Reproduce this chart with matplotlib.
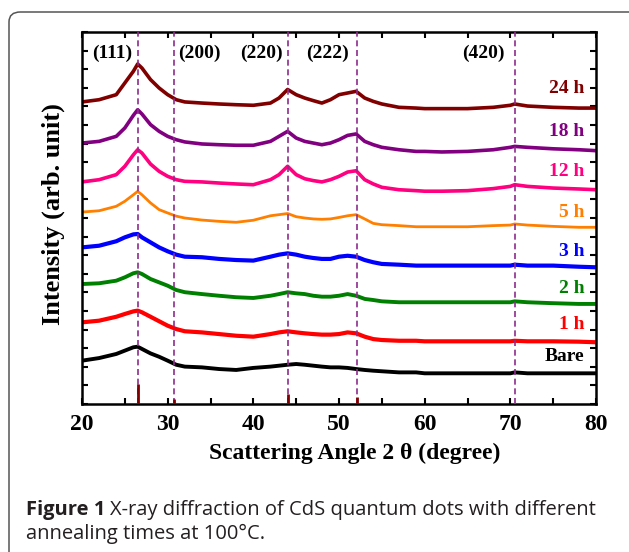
"""
Fig. 1: XRD patterns of CdS quantum dots for several annealing times (100 C).
Traces are stacked with a vertical offset; values read off the original figure.
"""

import numpy as np
import matplotlib
matplotlib.use("Agg")
import matplotlib.pyplot as plt
from matplotlib.patches import FancyBboxPatch

# scattering angle 2theta (degree)
two_theta = [20, 22, 24, 25, 26, 26.5, 27, 28, 29, 30, 31, 32, 34, 36, 38, 40,
             42, 43, 44, 45, 46, 47, 48, 49, 50, 51, 52, 53, 54, 55, 57, 59, 60,
             62, 65, 68, 70, 70.5, 72, 75, 78, 80]

# stacked intensities (arb. unit, offset already included)
i_24h = [16.24, 16.36, 16.63, 17.26, 17.89, 18.28, 18.06, 17.44, 16.99, 16.63, 16.36, 16.24, 16.18, 16.13, 16.09, 16.06,
         16.18, 16.45, 16.91, 16.63, 16.45, 16.31, 16.18, 16.36, 16.63, 16.72, 16.81, 16.45, 16.27, 16.13, 15.95, 15.91, 15.88,
         15.88, 15.88, 15.95, 16.06, 16.13, 16.02, 15.95, 15.91, 15.91]
i_18h = [14.03, 14.12, 14.39, 14.84, 15.52, 15.82, 15.59, 15.02, 14.66, 14.39, 14.21, 14.09, 13.98, 13.94, 13.91, 13.91,
         14.12, 14.39, 14.66, 14.30, 14.12, 14.03, 13.94, 14.03, 14.21, 14.44, 14.52, 14.12, 13.94, 13.80, 13.67, 13.58, 13.58,
         13.55, 13.58, 13.67, 13.80, 13.85, 13.80, 13.72, 13.67, 13.62]
i_12h = [11.94, 12.06, 12.33, 12.78, 13.40, 13.67, 13.49, 12.90, 12.51, 12.24, 12.06, 11.97, 11.94, 11.88, 11.83, 11.79,
         12.06, 12.33, 12.78, 12.33, 12.11, 12.01, 11.94, 12.06, 12.24, 12.47, 12.54, 12.06, 11.83, 11.65, 11.52, 11.47, 11.44,
         11.44, 11.47, 11.58, 11.70, 11.79, 11.70, 11.61, 11.56, 11.52]
i_5h = [10.32, 10.39, 10.63, 10.90, 11.25, 11.43, 11.25, 10.81, 10.45, 10.27, 10.10, 10.00, 9.89, 9.82, 9.77, 9.88,
        10.12, 10.18, 10.24, 10.07, 10.00, 9.95, 9.93, 9.95, 10.03, 10.12, 10.18, 9.95, 9.71, 9.64, 9.59, 9.53, 9.53,
        9.53, 9.53, 9.59, 9.62, 9.68, 9.62, 9.55, 9.50, 9.50]
i_3h = [8.42, 8.51, 8.75, 8.96, 9.12, 9.14, 8.96, 8.69, 8.42, 8.21, 8.03, 7.92, 7.89, 7.80, 7.74, 7.71,
        7.92, 8.03, 8.10, 8.03, 7.92, 7.85, 7.80, 7.80, 7.92, 7.97, 7.92, 7.74, 7.62, 7.53, 7.49, 7.44, 7.44,
        7.44, 7.44, 7.44, 7.44, 7.49, 7.44, 7.44, 7.38, 7.35]
i_2h = [6.45, 6.49, 6.63, 6.81, 7.03, 7.08, 6.99, 6.72, 6.54, 6.36, 6.13, 6.01, 5.91, 5.82, 5.74, 5.70,
        5.82, 5.91, 6.01, 5.95, 5.91, 5.82, 5.77, 5.77, 5.82, 5.91, 5.82, 5.65, 5.59, 5.52, 5.47, 5.47, 5.47,
        5.47, 5.47, 5.47, 5.47, 5.52, 5.47, 5.42, 5.38, 5.38]
i_1h = [4.39, 4.48, 4.69, 4.84, 4.98, 5.02, 4.93, 4.69, 4.45, 4.21, 4.03, 3.91, 3.85, 3.76, 3.67, 3.62,
        3.76, 3.85, 3.91, 3.85, 3.80, 3.76, 3.73, 3.73, 3.76, 3.85, 3.80, 3.62, 3.49, 3.44, 3.40, 3.40, 3.37,
        3.37, 3.37, 3.37, 3.37, 3.40, 3.37, 3.37, 3.35, 3.32]
i_bare = [2.33, 2.47, 2.69, 2.87, 3.05, 3.08, 2.96, 2.72, 2.54, 2.33, 2.11, 2.01, 1.97, 1.88, 1.83, 1.94,
          2.01, 2.06, 2.11, 2.15, 2.11, 2.06, 2.01, 1.97, 1.97, 1.94, 1.88, 1.83, 1.79, 1.76, 1.70, 1.70, 1.65,
          1.65, 1.65, 1.65, 1.65, 1.70, 1.65, 1.65, 1.65, 1.65]

sample_labels = ['24 h', '18 h', '12 h', '5 h', '3 h', '2 h', '1 h', 'Bare']
label_levels = [16.94, 14.66, 12.51, 10.29, 8.19, 6.22, 4.25, 2.54]
colors = ['#800000', '#800080', '#FF0080', '#FF8000', '#0000FF', '#008000', '#FF0000', '#000000']

# reference peaks of cubic CdS
peak_pos = [26.5, 30.75, 44.0, 52.1, 70.5]
peak_hkl = ['(111)', '(200)', '(220)', '(222)', '(420)']
hkl_label_x = [23.5, 33.7, 41.0, 48.7, 66.8]
ref_stick = [1.08, 0.27, 0.54, 0.39, 0.0]

W, H = 629, 552
fig = plt.figure(figsize=(W / 100, H / 100), dpi=100)

# rounded frame around figure + caption
frame = FancyBboxPatch((9 / W, -0.1), 1.2, 1 - 12 / H + 0.1,
                       boxstyle="round,pad=0,rounding_size=0.018",
                       transform=fig.transFigure, fill=False,
                       edgecolor='#555555', linewidth=1.1)
fig.patches.append(frame)

ax = fig.add_axes([82 / W, 1 - 404 / H, 514 / W, 372 / H])

serif = ['Liberation Serif', 'DejaVu Serif']
curves = [i_24h, i_18h, i_12h, i_5h, i_3h, i_2h, i_1h, i_bare]
widths = [2.6, 2.6, 2.6, 2.0, 3.0, 2.8, 3.0, 2.8]
for y, c, lw in zip(curves, colors, widths):
    ax.plot(two_theta, y, color=c, linewidth=lw, solid_joinstyle='round', zorder=2)

for lab, lev, c in zip(sample_labels, label_levels, colors):
    ax.text(78.65, lev, lab, color=c, ha='right', va='center',
            fontsize=14, fontweight='bold', family=serif)

for x, h, hx in zip(peak_pos, peak_hkl, hkl_label_x):
    ax.axvline(x, color='#8E2C8E', linewidth=1.2, dashes=(3.6, 2.2), zorder=3)
    ax.text(hx, 18.87, h, ha='center', va='center', fontsize=14,
            fontweight='bold', family=serif)

for x, s in zip(peak_pos, ref_stick):
    if s > 0:
        ax.vlines(x, 0, s, color='#800000', linewidth=2.0, zorder=4)

ax.set_xlim(20, 80)
ax.set_ylim(0, 20)
ax.set_xticks(np.arange(20, 81, 10))
ax.set_xticks(np.arange(25, 80, 10), minor=True)
ax.set_yticks(np.arange(0, 21, 1))
ax.set_yticklabels([])
ax.tick_params(axis='both', which='both', direction='in', top=True, right=True,
               length=4, width=1.5)
ax.tick_params(axis='x', which='major', pad=7, labelsize=17)
for lbl in ax.get_xticklabels():
    lbl.set_fontweight('bold')
    lbl.set_family(serif)
for sp in ax.spines.values():
    sp.set_linewidth(1.8)

ax.set_xlabel('Scattering Angle 2 \u03b8 (degree)', fontsize=17, fontweight='bold',
              family=serif, labelpad=6)
ax.xaxis.label.set_x(0.531)
ax.set_ylabel('Intensity (arb. unit)', fontsize=19, fontweight='bold',
              family=serif, labelpad=9)
ax.yaxis.label.set_y(0.51)

# caption, bold lead-in followed by regular text
cap_color = '#231F20'
sans = ['Open Sans', 'DejaVu Sans']
cap_size = 14.5
t1 = fig.text(26 / W, 1 - 510 / H, 'Figure 1', fontsize=cap_size, fontweight='bold',
              family=sans, color=cap_color, va='center', ha='left')
fig.canvas.draw()
bb = t1.get_window_extent()
fig.text((bb.x1 + 5) / W, 1 - 510 / H,
         'X-ray diffraction of CdS quantum dots with different',
         fontsize=cap_size, family=sans, color=cap_color, va='center', ha='left')
fig.text(26 / W, 1 - 534 / H, 'annealing times at 100\u00b0C.',
         fontsize=cap_size, family=sans, color=cap_color, va='center', ha='left')

fig.savefig('out.png', dpi=100)
